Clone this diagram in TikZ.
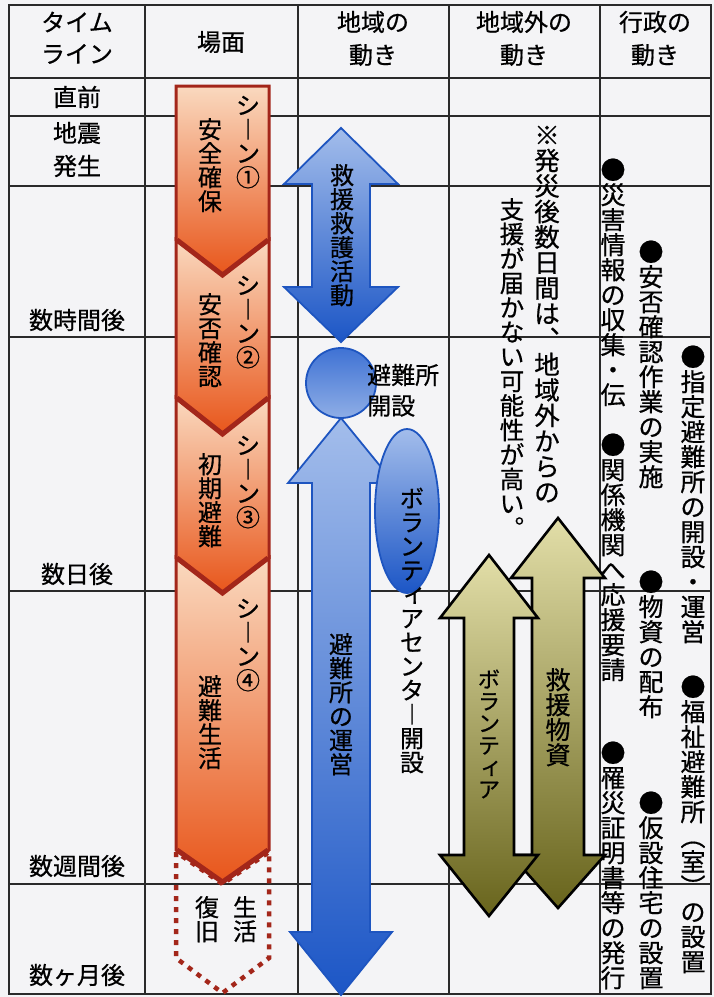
\documentclass[tikz,border=0pt]{standalone}
\usepackage{fontspec}
\setmainfont{Noto Sans CJK JP}
\newfontfamily\jp[FakeBold=0.6]{Noto Sans CJK JP}
\usetikzlibrary{shapes.geometric}
\makeatletter
\newcommand\vstack[1]{\vbox{\offinterlineskip\@tfor\vs@c:=#1\do{\hbox to 1em{\hss\vrule width 0pt height .88em depth .12em\vs@c\hss}}}}
\makeatother
\newcommand\smk[1]{\hbox to 1em{\hskip .1em\raise .06em\hbox{#1}\hss}}
\definecolor{bgc}{HTML}{F4F4F6}
\definecolor{gridc}{HTML}{2A2A2A}
\definecolor{scred}{HTML}{A3261A}
\definecolor{scTop}{HTML}{FAD9BF}
\definecolor{scBot}{HTML}{E8561B}
\definecolor{blueB}{HTML}{1E55C0}
\definecolor{blTop}{HTML}{A3BDEB}
\definecolor{blBot}{HTML}{1C56C6}
\definecolor{ciTop}{HTML}{3F72D4}
\definecolor{ciBot}{HTML}{8FAEE6}
\definecolor{olTop}{HTML}{E2DEA8}
\definecolor{olBot}{HTML}{68641C}
\tikzset{
  hlabel/.style={font=\jp\fontsize{24}{28}\selectfont, inner sep=0pt},
  vlabel/.style={font=\jp\fontsize{24}{24}\selectfont, anchor=north, inner sep=0pt},
  vlabelR/.style={vlabel, font=\jp\fontsize{25}{25}\selectfont},
  gridline/.style={draw=gridc, line width=1.3pt},
  scenebox/.style={draw=scred, line width=3pt, line join=miter, top color=scTop, bottom color=scBot},
  sep/.style={draw=scred, line width=5pt, line join=miter},
  recov/.style={draw=scred, line width=4.5pt, dash pattern=on 5pt off 6pt},
  bluearrow/.style={draw=blueB, line width=1.8pt, line join=miter, top color=blTop, bottom color=blBot},
  olivearrow/.style={draw=black, line width=2.6pt, line join=miter, top color=olTop, bottom color=olBot},
}
\begin{document}
\begin{tikzpicture}[x=1pt,y=-1pt]
\useasboundingbox (0,0) rectangle (714,997);
\fill[bgc] (0,0) rectangle (714,997);

% grid
\draw[gridline] (9,5) rectangle (711,994);
\foreach \xx in {145,298,449,600} \draw[gridline] (\xx,5) -- (\xx,994);
\foreach \yy in {78,116,186,337,591,884} \draw[gridline] (9,\yy) -- (711,\yy);

% header
\node[hlabel] (h1a) at (77,22) {タイム};
\node[hlabel] (h1b) at (77,54) {ライン};
\node[hlabel] (h2) at (221,42) {場面};
\node[hlabel] (h3a) at (373,22) {地域の};
\node[hlabel] (h3b) at (373,55) {動き};
\node[hlabel] (h4a) at (524,22) {地域外の};
\node[hlabel] (h4b) at (524,55) {動き};
\node[hlabel] (h5a) at (655,22) {行政の};
\node[hlabel] (h5b) at (655,55) {動き};

% time line
\node[hlabel] (t0) at (77,97) {直前};
\node[hlabel] (t1a) at (77,133) {地震};
\node[hlabel] (t1b) at (77,166) {発生};
\node[hlabel] (t2) at (77,320) {数時間後};
\node[hlabel] (t3) at (77,574) {数日後};
\node[hlabel] (t4) at (77,866) {数週間後};
\node[hlabel] (t5) at (77,975) {数ヶ月後};

% scenes
\draw[recov] (176,852) -- (176,958) -- (222.5,993) -- (269,958) -- (269,852) -- (222.5,884) -- cycle;
\path[scenebox] (176,558) -- (222.5,593) -- (269,558) -- (269,850) -- (222.5,882) -- (176,850) -- cycle;
\path[scenebox] (176,398) -- (222.5,434) -- (269,398) -- (269,558) -- (222.5,593) -- (176,558) -- cycle;
\path[scenebox] (176,240) -- (222.5,275) -- (269,240) -- (269,398) -- (222.5,434) -- (176,398) -- cycle;
\path[scenebox] (176,86) -- (269,86) -- (269,240) -- (222.5,275) -- (176,240) -- cycle;
\draw[sep] (177,240) -- (222.5,275) -- (268,240);
\draw[sep] (177,398) -- (222.5,434) -- (268,398);
\draw[sep] (177,558) -- (222.5,593) -- (268,558);
\draw[sep] (177,850) -- (222.5,882) -- (268,850);

\node[vlabel] (s1a) at (248,93) {\vstack{シ︱ン①}};
\node[vlabel] (s1b) at (210,117) {\vstack{安全確保}};
\node[vlabel] (s2a) at (248,273) {\vstack{シ︱ン②}};
\node[vlabel] (s2b) at (210,292) {\vstack{安否確認}};
\node[vlabel] (s3a) at (248,433) {\vstack{シ︱ン③}};
\node[vlabel] (s3b) at (210,452) {\vstack{初期避難}};
\node[vlabel] (s4a) at (248,596) {\vstack{シ︱ン④}};
\node[vlabel] (s4b) at (210,674) {\vstack{避難生活}};
\node[vlabel] (r1) at (207,895) {\vstack{復旧}};
\node[vlabel] (r2) at (245,895) {\vstack{生活}};

% local (blue)
\path[bluearrow] (341,128) -- (398,184) -- (370,184) -- (370,287) -- (398,287) -- (341,342) -- (284,287) -- (312,287) -- (312,184) -- (284,184) -- cycle;
\path[bluearrow] (341,418) -- (394,483) -- (370,483) -- (370,932) -- (392,932) -- (341,995) -- (290,932) -- (312,932) -- (312,483) -- (288,483) -- cycle;
\path[draw=blueB, line width=1.8pt, top color=ciTop, bottom color=ciBot] (341,383) circle[radius=35];
\path[bluearrow] (407,511) ellipse[x radius=32, y radius=82];
\node[vlabel] (b1) at (342,163) {\vstack{救援救護活動}};
\node[vlabel] (b2) at (341,632) {\vstack{避難所の運営}};
\node[vlabel] (b3) at (412,486) {\vstack{ボランテ{\smk{ィ}}アセンタ︱開設}};
\node[hlabel, anchor=west] (b4a) at (367,375) {避難所};
\node[hlabel, anchor=west] (b4b) at (367,406) {開設};

% outside (olive)
\path[olivearrow] (558,518) -- (605,578) -- (584,578) -- (584,855) -- (605,855) -- (558,908) -- (511,855) -- (532,855) -- (532,578) -- (511,578) -- cycle;
\path[olivearrow] (489,555) -- (538,618) -- (514,618) -- (514,855) -- (538,855) -- (489,916) -- (440,855) -- (464,855) -- (464,618) -- (440,618) -- cycle;
\node[vlabel, font=\jp\fontsize{22}{22}\selectfont] (o1) at (489,668) {\vstack{ボランテ{\smk{ィ}}ア}};
\node[vlabel, font=\jp\fontsize{25}{25}\selectfont] (o2) at (558,667) {\vstack{救援物資}};
\node[vlabel, font=\jp\fontsize{25.5}{25.5}\selectfont] (n1) at (547,122) {\vstack{※発災後数日間は︑地域外からの}};
\node[vlabel, font=\jp\fontsize{24.5}{24.5}\selectfont] (n2) at (512,197) {\vstack{支援が届かない可能性が高い︒}};

% administration
\node[vlabelR] (a1) at (613,157) {\vstack{●災害情報の収集・伝}};
\node[vlabelR] (a2) at (613,432) {\vstack{●関係機関へ応援要請}};
\node[vlabelR] (a3) at (613,740) {\vstack{●罹災証明書等の発行}};
\node[vlabelR] (a4) at (651,239) {\vstack{●安否確認作業の実施}};
\node[vlabelR] (a5) at (651,569) {\vstack{●物資の配布}};
\node[vlabelR] (a6) at (651,790) {\vstack{●仮設住宅の設置}};
\node[vlabelR] (a7) at (693,344) {\vstack{●指定避難所の開設・運営}};
\node[vlabelR] (a8) at (693,674) {\vstack{●福祉避難所︵室︶の設置}};
\end{tikzpicture}
\end{document}
